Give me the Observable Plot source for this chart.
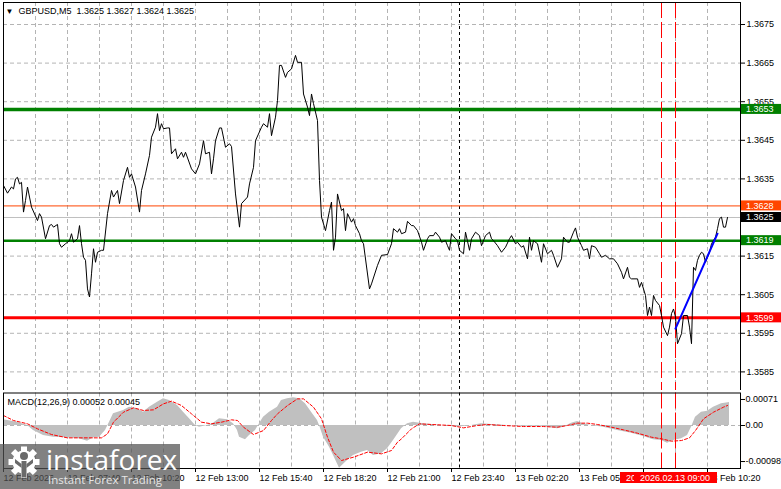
<!DOCTYPE html>
<html><head><meta charset="utf-8">
<script src="https://cdn.jsdelivr.net/npm/d3@7"></script>
<script src="https://cdn.jsdelivr.net/npm/@observablehq/plot@0.6"></script>
<style>
html,body{margin:0;padding:0;background:#fff;}
#chart{position:relative;width:781px;height:489px;overflow:hidden;}
#chart > svg{display:block;position:absolute;left:0;}
#chart svg text{white-space:pre;}
</style></head><body><div id="chart"></div>
<script>
// ---------- data ----------
const symbol = "GBPUSD,M5";
const ohlc = [1.3625, 1.3627, 1.3624, 1.3625];
const macdTitle = "MACD(12,26,9)";
const macdNow = [0.00052, 0.00045];

// bar index = number of 5-minute bars after 12 Feb 2026 05:00
const priceBar = [
 0,2,4,5,6,7,8,9,10,11,
 12,13,14,17,18,19,21,23,24,25,
 27,28,29,31,33,34,35,37,38,39,
 40,41,42,43,44,45,46,47,49,50,
 52,54,55,57,58,60,62,63,64,66,
 68,69,71,73,74,76,77,78,79,80,
 82,83,84,86,87,89,90,91,94,96,
 98,100,101,103,104,105,106,108,109,111,
 113,114,116,118,119,122,123,125,126,129,
 130,132,133,134,136,137,138,139,141,142,
 144,146,147,149,150,152,153,154,155,157,
 158,159,161,163,164,165,166,167,169,170,
 171,172,174,175,176,178,179,180,183,184,
 187,189,192,194,195,197,198,199,201,202,
 204,205,207,209,210,212,213,215,216,218,
 219,221,222,223,224,226,227,228,230,231,
 233,234,236,238,239,241,243,244,245,247,
 249,251,253,254,256,257,259,260,262,263,
 264,265,267,269,270,272,274,275,277,279,
 280,282,283,285,286,287,289,290,292,293,
 294,296,298,299,301,303,305,307,309,310,
 312,313,314,317,318,319,321,322,323,324,
 325,326,328,329,330,332,333,334,335,336,
 337,339,340,342,343,344,345,346,347,348,
 349,350,351,352,353,354,356,357,358,359,
 360,361,362];
const priceClose = [
 1.36333,1.36313,1.36329,1.36324,1.36350,1.36354,1.36337,1.36341,1.36264,1.36294,
 1.36329,1.36303,1.36277,1.36242,1.36260,1.36251,1.36195,1.36229,1.36232,1.36225,
 1.36232,1.36182,1.36173,1.36182,1.36190,1.36208,1.36186,1.36195,1.36229,1.36182,
 1.36147,1.36139,1.36065,1.36044,1.36104,1.36169,1.36134,1.36160,1.36165,1.36165,
 1.36260,1.36320,1.36303,1.36320,1.36286,1.36346,1.36380,1.36354,1.36363,1.36329,
 1.36264,1.36320,1.36363,1.36411,1.36458,1.36484,1.36519,1.36475,1.36493,1.36480,
 1.36482,1.36482,1.36415,1.36428,1.36402,1.36419,1.36406,1.36419,1.36376,1.36363,
 1.36389,1.36449,1.36415,1.36419,1.36363,1.36402,1.36449,1.36482,1.36482,1.36432,
 1.36441,1.36434,1.36311,1.36225,1.36286,1.36303,1.36337,1.36380,1.36449,1.36484,
 1.36493,1.36484,1.36519,1.36462,1.36510,1.36553,1.36644,1.36644,1.36613,1.36626,
 1.36635,1.36670,1.36652,1.36652,1.36570,1.36536,1.36514,1.36570,1.36545,1.36501,
 1.36346,1.36251,1.36216,1.36268,1.36290,1.36165,1.36199,1.36311,1.36268,1.36273,
 1.36216,1.36260,1.36238,1.36247,1.36229,1.36208,1.36190,1.36182,1.36065,1.36078,
 1.36126,1.36152,1.36154,1.36182,1.36221,1.36212,1.36221,1.36208,1.36212,1.36240,
 1.36229,1.36229,1.36216,1.36186,1.36165,1.36195,1.36203,1.36203,1.36212,1.36199,
 1.36186,1.36190,1.36177,1.36165,1.36208,1.36195,1.36190,1.36165,1.36156,1.36212,
 1.36165,1.36195,1.36212,1.36203,1.36177,1.36203,1.36212,1.36195,1.36190,1.36177,
 1.36160,1.36173,1.36195,1.36203,1.36182,1.36186,1.36173,1.36177,1.36143,1.36199,
 1.36165,1.36190,1.36182,1.36134,1.36182,1.36156,1.36165,1.36152,1.36121,1.36143,
 1.36199,1.36186,1.36186,1.36212,1.36223,1.36199,1.36177,1.36165,1.36169,1.36143,
 1.36177,1.36173,1.36156,1.36147,1.36152,1.36143,1.36143,1.36130,1.36108,1.36091,
 1.36121,1.36095,1.36091,1.36091,1.36069,1.36082,1.36048,1.35996,1.36018,1.35996,
 1.36048,1.36035,1.36022,1.35996,1.35966,1.35944,1.35966,1.36001,1.36013,1.35992,
 1.35923,1.35949,1.35996,1.35996,1.35966,1.35923,1.36121,1.36113,1.36139,1.36152,
 1.36160,1.36156,1.36134,1.36147,1.36160,1.36182,1.36199,1.36221,1.36247,1.36251,
 1.36225,1.36225,1.36250];

const trendBar = [336, 357];
const trendPrice = [1.35962, 1.36208];

const levelValues = [1.3625, 1.3653, 1.3628, 1.3619, 1.3599];
const levelLabels = ["1.3625", "1.3653", "1.3628", "1.3619", "1.3599"];
const levelColors = ["#c0c0c0", "#008000", "#ff4500", "#008000", "#ff0000"];
const levelBoxColors = ["#000000", "#008000", "#ff4500", "#008000", "#ff0000"];
const levelWidths = [1, 3.5, 1, 2.5, 3];

const priceTicks = [1.3585, 1.3595, 1.3605, 1.3615, 1.3625, 1.3635, 1.3645, 1.3655, 1.3665, 1.3675];

const histBar = [0,7,12,15,20,25,32,38,42,45,48,51,53,55,60,63,67,70,73,77,80,83,87,90,93,96,98,102,105,108,112,115,117,118,121,123,126,128,130,133,137,139,142,145,148,151,154,157,158,160,163,165,168,172,175,179,182,185,189,192,195,199,202,205,210,219,227,234,239,244,252,260,269,277,280,284,287,290,294,300,307,314,320,325,329,332,335,339,342,344,346,349,352,355,359,363];
const histValue = [0.000128,0.000075,0,-0.000113,-0.000225,-0.000263,-0.000278,-0.0003,-0.000353,-0.000278,-0.000263,-0.000113,0.000075,0.000263,0.000338,0.000413,0.000375,0.0003,0.000413,0.000525,0.0006,0.000563,0.00045,0.0003,0.00015,0,-0.000038,0,0.000053,0.00015,0.000128,0.000038,-0.000113,-0.000263,-0.000323,-0.000225,-0.000113,0.000038,0.000188,0.0003,0.000413,0.000563,0.0006,0.000623,0.0006,0.000488,0.0003,0.000113,0,-0.000263,-0.000488,-0.000675,-0.00096,-0.000788,-0.000675,-0.0006,-0.000563,-0.000675,-0.000638,-0.000525,-0.000338,-0.000075,0.000038,0.000075,0.000038,0,-0.000038,0,0.000038,0.000023,0,-0.000015,-0.000015,-0.000075,-0.000038,0.000053,0.00009,0.000038,0,-0.000038,-0.000113,-0.000173,-0.000248,-0.000323,-0.000338,-0.000398,-0.000338,-0.0003,-0.000225,-0.000038,0.000188,0.0003,0.000323,0.000413,0.000488,0.00052];

const signalBar = [0,5,12,17,24,32,40,49,52,55,60,65,70,75,80,84,89,94,99,104,109,114,117,120,125,130,134,137,142,147,150,155,159,162,165,169,175,182,189,194,197,199,204,208,214,224,230,237,242,250,260,270,277,282,287,292,297,304,310,317,324,329,334,339,343,346,350,355,360,362];
const signalValue = [0.000225,0.000113,0.000038,-0.000075,-0.000203,-0.000278,-0.000278,-0.000278,-0.000188,0.000075,0.0003,0.000398,0.000338,0.000353,0.000488,0.000548,0.00045,0.000263,0.000075,0.000038,0.000075,0.000128,0.000113,-0.000038,-0.000203,-0.000113,0.000113,0.000263,0.00045,0.0006,0.0006,0.000413,0.00015,-0.000263,-0.0006,-0.000788,-0.000713,-0.0006,-0.000638,-0.000563,-0.000375,-0.0003,-0.000075,0.000038,0.000023,0,-0.000053,0,0.000023,0,-0.000023,-0.000023,-0.000038,0,0.000053,0.000053,0.000023,-0.000038,-0.000098,-0.000173,-0.000263,-0.0003,-0.000353,-0.000338,-0.000278,-0.000113,0.00015,0.0003,0.000413,0.00045];

const macdTicks = [0.00071, 0, -0.00098];
const macdTickLabels = ["0.00071", "0.00", "-0.00098"];

const tickBars = [0,32,64,96,128,160,192,224,256,288,320,352];
const tickLabels = ["12 Feb 2026","12 Feb 07:40","12 Feb 10:20","12 Feb 13:00","12 Feb 15:40","12 Feb 18:20","12 Feb 21:00","12 Feb 23:40","13 Feb 02:20","13 Feb 05:00","13 Feb 07:40","13 Feb 10:20"];
const dayBreakBar = 228;            // 13 Feb 00:00
const markerBars = [329, 336];      // vertical red lines
const markerLabels = ["2026.02.13 08:25", "2026.02.13 09:00"];

// ---------- layout ----------
const t0 = Date.UTC(2026, 1, 12, 5, 0);
const barTime = i => new Date(t0 + i * 5 * 60000);
const xDomain = [barTime(0), barTime(368.5)];
const gridBars = d3.range(16, 353, 16);
const FONT = "Liberation Sans, Arial, sans-serif";
const GRID = "#b4b4b4";
const style = {fontFamily: FONT, fontSize: "9px", background: "white", color: "black", overflow: "visible"};

const priceData = priceBar.map((b, i) => ({t: barTime(b), p: priceClose[i]}));
const trendData = trendBar.map((b, i) => ({t: barTime(b), p: trendPrice[i]}));
const histData = histBar.map((b, i) => ({t: barTime(b), v: histValue[i]}));
const sigData = signalBar.map((b, i) => ({t: barTime(b), v: signalValue[i]}));
const yTop = 1.368070, yBottom = 1.358018;

const main = Plot.plot({
  width: 781, height: 391, marginTop: 2, marginBottom: 1, marginLeft: 3, marginRight: 41,
  style,
  x: {type: "utc", domain: xDomain, axis: null},
  y: {domain: [yBottom, yTop], axis: null},
  marks: [
    Plot.ruleX(gridBars.map(barTime), {stroke: GRID, strokeDasharray: "4,3"}),
    Plot.ruleY(priceTicks, {stroke: GRID, strokeDasharray: "4,3"}),
    Plot.ruleX([barTime(dayBreakBar)], {stroke: "black", strokeDasharray: "3,3"}),
    ...levelValues.map((v, i) => Plot.ruleY([v], {stroke: levelColors[i], strokeWidth: levelWidths[i]})),
    Plot.ruleX(markerBars.map(barTime), {stroke: "#ff0000", strokeDasharray: "16,4"}),
    Plot.line(priceData, {x: "t", y: "p", stroke: "black", strokeWidth: 1}),
    Plot.line(trendData, {x: "t", y: "p", stroke: "#0000ff", strokeWidth: 2}),
    Plot.axisY(priceTicks, {anchor: "right", tickSize: 4, tickPadding: 2, tickFormat: d => d.toFixed(4), label: null}),
    Plot.ruleX(xDomain, {stroke: "black"}),
    Plot.ruleY([yTop], {stroke: "black"}),
    Plot.text(["▼"], {frameAnchor: "top-left", dx: 6, dy: 8.5, lineAnchor: "middle", textAnchor: "middle", fontSize: 8}),
    Plot.text([symbol + "  " + ohlc.map(d => d.toFixed(4)).join(" ")], {frameAnchor: "top-left", dx: 15, dy: 8.5, lineAnchor: "middle", textAnchor: "start", fill: "black", stroke: "white", strokeWidth: 3})
  ]
});

const macd = Plot.plot({
  width: 781, height: 98, marginTop: 1.5, marginBottom: 21, marginLeft: 3, marginRight: 41,
  style,
  x: {type: "utc", domain: xDomain, axis: null},
  y: {domain: [-0.000968, 0.000732], axis: null},
  marks: [
    Plot.ruleX(gridBars.map(barTime), {stroke: GRID, strokeDasharray: "4,3"}),
    Plot.ruleY([0], {stroke: GRID, strokeDasharray: "4,3"}),
    Plot.ruleX([barTime(dayBreakBar)], {stroke: "black", strokeDasharray: "3,3"}),
    Plot.areaY(histData, {x: "t", y: "v", fill: "#c0c0c0"}),
    Plot.line(sigData, {x: "t", y: "v", stroke: "#ff0000", strokeWidth: 1, strokeDasharray: "3,2"}),
    Plot.ruleX(markerBars.map(barTime), {stroke: "#ff0000", strokeDasharray: "16,4"}),
    Plot.frame({stroke: "black"}),
    Plot.axisX(tickBars.map(barTime), {anchor: "bottom", tickSize: 4, tickPadding: 2, textAnchor: "start", dx: 0,
      tickFormat: d => tickLabels[tickBars.indexOf(Math.round((d - t0) / 300000))], label: null}),
    Plot.axisY([macdTicks[0]], {anchor: "right", tickSize: 4, tickPadding: 1, dy: 5.5, tickFormat: () => macdTickLabels[0], label: null}),
    Plot.axisY([macdTicks[1]], {anchor: "right", tickSize: 4, tickPadding: 1, tickFormat: () => macdTickLabels[1], label: null}),
    Plot.axisY([macdTicks[2]], {anchor: "right", tickSize: 4, tickPadding: 1, dy: -7.5, tickFormat: () => macdTickLabels[2], label: null}),
    Plot.text([macdTitle + " " + macdNow.map(d => d.toFixed(5)).join(" ")], {frameAnchor: "top-left", dx: 4, dy: 9.5, lineAnchor: "middle", textAnchor: "start"})
  ]
});

const chart = document.getElementById("chart");
main.style.top = "0px";
macd.style.top = "391px";
chart.appendChild(main);
chart.appendChild(macd);

// price level boxes on the right scale
const sy = main.scale("y");
const gBox = d3.select(main).append("g").attr("font-family", FONT).attr("font-size", 9).attr("text-anchor", "start");
levelValues.forEach((v, i) => {
  const y = sy.apply(v);
  gBox.append("rect").attr("x", 741).attr("y", y - 5).attr("width", 40).attr("height", 10).attr("fill", levelBoxColors[i]);
  gBox.append("text").attr("x", 746).attr("y", y).attr("dy", "0.35em").attr("text-anchor", "start").attr("fill", "white").text(levelLabels[i]);
});

// time labels of the vertical marker lines
const sx = macd.scale("x");
const gTime = d3.select(macd).append("g").attr("font-family", FONT).attr("font-size", 9);
markerBars.forEach((b, i) => {
  const cx = sx.apply(barTime(b));
  gTime.append("rect").attr("x", cx - 41).attr("y", 81).attr("width", 83).attr("height", 11).attr("fill", "#ff0000");
  gTime.append("text").attr("x", cx).attr("y", 86.5).attr("dy", "0.35em").attr("text-anchor", "middle").attr("fill", "white").text(markerLabels[i]);
});

// watermark
const logo = d3.select(chart).append("svg").attr("width", 180).attr("height", 45)
  .style("position", "absolute").style("left", "0px").style("top", "444px");
logo.append("rect").attr("width", 180).attr("height", 45).attr("fill", "rgba(82,82,82,0.73)");
const gear = logo.append("g").attr("transform", "translate(24,18)").attr("fill", "white");
gear.append("circle").attr("r", 11.5);
d3.range(8).forEach(k => gear.append("rect").attr("x", -3).attr("y", -15.5).attr("width", 6).attr("height", 6).attr("transform", `rotate(${k * 45})`));
const fig = logo.append("g").attr("fill", "#6a6a6a");
fig.append("circle").attr("cx", 24).attr("cy", 12).attr("r", 4);
fig.append("rect").attr("x", 21.5).attr("y", 17).attr("width", 5).attr("height", 16);
fig.append("path").attr("d", "M15,15 L21.5,20 L21.5,24 L15,19 Z M33,15 L26.5,20 L26.5,24 L33,19 Z");
logo.append("text").attr("x", 46).attr("y", 26).attr("font-family", "Open Sans, sans-serif").attr("font-size", 28).attr("fill", "white").text("instaforex");
logo.append("text").attr("x", 48).attr("y", 40).attr("font-family", "Open Sans, sans-serif").attr("font-size", 11.5).attr("fill", "#e6e6e6").text("Instant Forex Trading");
</script></body></html>
